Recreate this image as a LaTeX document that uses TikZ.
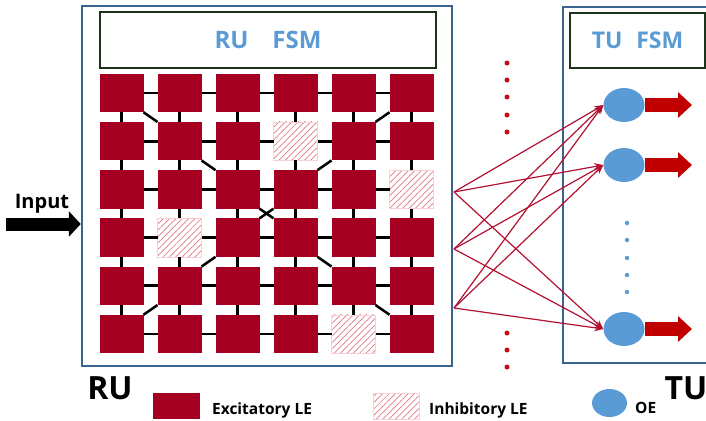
\documentclass[tikz,border=0pt]{standalone}
\usepackage{fontspec}
\setmainfont{Open Sans}
\usetikzlibrary{arrows.meta,shapes.geometric,patterns.meta,positioning}

\definecolor{exred}{RGB}{165,0,33}
\definecolor{hatchred}{RGB}{228,120,135}
\definecolor{fsmblue}{RGB}{91,155,213}
\definecolor{boxblue}{RGB}{58,99,143}
\definecolor{fsmgreen}{RGB}{28,52,28}
\definecolor{linkred}{RGB}{178,18,48}
\definecolor{outred}{RGB}{192,0,0}
\definecolor{dotred}{RGB}{200,10,20}

\tikzset{
  unitbox/.style={draw=boxblue, line width=2.5pt, fill=white, inner sep=0pt},
  fsmbox/.style={draw=fsmgreen, line width=1.5pt, fill=white, inner sep=0pt,
    text=fsmblue, font=\bfseries\fontsize{24}{28}\selectfont},
  excite/.style={fill=exred, minimum width=44pt, minimum height=38.5pt, inner sep=0pt, outer sep=0pt},
  inhib/.style={draw=hatchred!35, line width=0.4pt, preaction={fill=white},
    pattern={Lines[angle=45,distance=4.5pt,line width=0.7pt]}, pattern color=hatchred,
    minimum width=44pt, minimum height=38.5pt, inner sep=0pt, outer sep=0pt},
  link/.style={black, line width=2.8pt},
  conn/.style={linkred, line width=1.2pt, -{Stealth[length=9pt,width=7pt]}},
  oe/.style={ellipse, fill=fsmblue, minimum width=41pt, minimum height=34pt, inner sep=0pt},
  outarrow/.style={outred, line width=14pt, -{Triangle[length=14pt,width=25pt]}},
  inarrow/.style={black, line width=13pt, -{Triangle[length=12pt,width=25pt]}},
  reddot/.style={circle, fill=dotred, inner sep=0pt, minimum size=5pt},
  bluedot/.style={circle, fill=fsmblue, inner sep=0pt, minimum size=4.5pt},
  legtext/.style={font=\bfseries\fontsize{15.5}{18}\selectfont, inner sep=0pt},
  bigtext/.style={font=\bfseries\fontsize{32}{36}\selectfont, inner sep=0pt}
}

\begin{document}
\begin{tikzpicture}[x=1pt, y=-1pt]
\clip (0,0) rectangle (706,420);

% units
\node[unitbox, minimum width=370pt, minimum height=360pt] (ru) at (267,186) {};
\node[unitbox, minimum width=157pt, minimum height=356pt] (tu) at (641.5,185) {};
\node[fsmbox, minimum width=336pt, minimum height=56pt] (rufsm) at (268,40) {RU\hspace{1em}FSM};
\node[fsmbox, minimum width=135pt, minimum height=55pt, font=\bfseries\fontsize{23}{26}\selectfont] (tufsm) at (637.5,40.5) {TU\hspace{0.6em}FSM};

% grid of logic elements
\foreach \r in {1,...,6}
  \foreach \c in {1,...,6}
    \node[excite] (c\r\c) at ({121.5+58*(\c-1)},{93+48.2*(\r-1)}) {};
\foreach \r/\c in {2/4,3/6,4/2,6/5}
  \node[inhib] (c\r\c) at ({121.5+58*(\c-1)},{93+48.2*(\r-1)}) {};

% links
\foreach \r in {1,...,6}
  \foreach \c [count=\nx from 2] in {1,...,5}
    \draw[link] (c\r\c) -- (c\r\nx);
\foreach \c in {1,...,6}
  \foreach \r [count=\nx from 2] in {1,...,5}
    \draw[link] (c\r\c) -- (c\nx\c);
\foreach \a/\b in {c11.south east/c22.north west, c16.south west/c25.north east,
    c22.south east/c33.north west, c25.south west/c34.north east,
    c33.south east/c44.north west, c34.south west/c43.north east,
    c43.south west/c52.north east, c44.south east/c55.north west,
    c52.south west/c61.north east, c55.south east/c66.north west}
  \draw[link, line width=2.5pt] (\a) -- (\b);

% output elements
\node[oe] (oe1) at (624,105) {};
\node[oe] (oe2) at (624,165) {};
\node[oe] (oe3) at (624,329) {};
\foreach \i in {1,2,3} {
  \coordinate (out\i) at (692,0 |- oe\i);
  \draw[outarrow] (oe\i.east) -- (out\i);
}
\foreach \y [count=\k] in {223,240,258,275,292}
  \node[bluedot] (bd\k) at (627,\y) {};

% connections RU -> TU
\coordinate (s1) at (454,192);
\coordinate (s2) at (454,249);
\coordinate (s3) at (454,308);
\foreach \i in {1,2,3}
  \foreach \j in {1,2,3}
    \draw[conn] (s\i) -- (oe\j.west);

% dots between units
\foreach \y [count=\k] in {63,80,97,115,132,333,350,367}
  \node[reddot] (rd\k) at (507,\y) {};

% input
\coordinate (instart) at (6,224);
\draw[inarrow] (instart) -- (ru.west |- instart);
\node[font=\bfseries\fontsize{20}{22}\selectfont, inner sep=0pt] (input) at (42,204) {Input};

% labels
\node[bigtext] (rulabel) at (110,388) {RU};
\node[bigtext] (tulabel) at (686,388) {TU};

% legend
\node[excite, minimum width=47pt, minimum height=26pt] (legex) at (176.5,406) {};
\node[legtext, anchor=west] (legextext) at (212,410) {Excitatory LE};
\node[inhib, minimum width=46pt, minimum height=26pt] (leginh) at (396,406) {};
\node[legtext, anchor=west] (leginhtext) at (429,410) {Inhibitory LE};
\node[oe, minimum width=35pt, minimum height=28pt] (legoe) at (609.5,403) {};
\node[legtext, anchor=west] (legoetext) at (635,408) {OE};

\end{tikzpicture}
\end{document}
